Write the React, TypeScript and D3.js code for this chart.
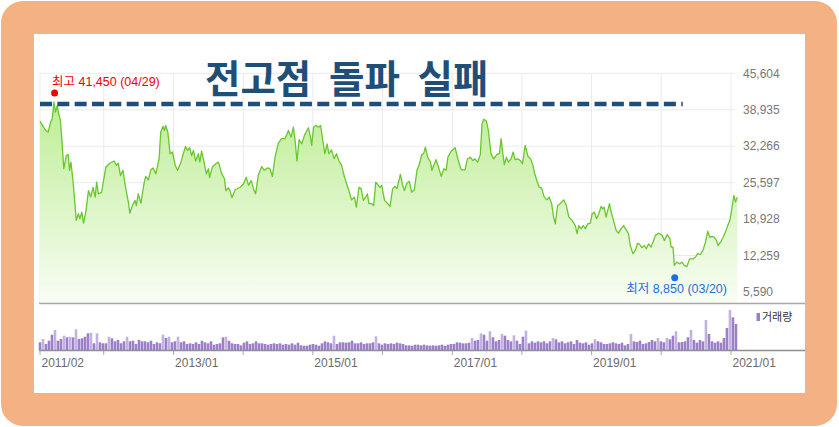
import React from "react";
import * as d3 from "d3";

// price line (weekly-ish closes)
const priceDates = [
  "2011-02-01","2011-03-02","2011-03-16","2011-03-28","2011-04-06","2011-04-15","2011-04-23","2011-05-02","2011-05-10","2011-05-19",
  "2011-05-28","2011-06-06","2011-06-19","2011-06-29","2011-07-06","2011-07-13","2011-07-23","2011-08-03","2011-08-10","2011-08-21",
  "2011-08-29","2011-09-08","2011-09-17","2011-09-29","2011-10-13","2011-10-25","2011-11-06","2011-11-17","2011-11-25","2011-12-04",
  "2011-12-21","2012-01-12","2012-02-02","2012-02-24","2012-03-07","2012-03-17","2012-03-29","2012-04-11","2012-04-21","2012-05-09",
  "2012-05-17","2012-05-30","2012-06-13","2012-06-20","2012-06-30","2012-07-14","2012-07-30","2012-08-08","2012-08-22","2012-09-04",
  "2012-09-16","2012-09-30","2012-10-17","2012-10-26","2012-11-07","2012-11-15","2012-11-21","2012-12-02","2012-12-14","2012-12-26",
  "2013-01-10","2013-01-22","2013-02-09","2013-02-21","2013-03-05","2013-03-15","2013-03-26","2013-04-06","2013-04-15","2013-04-27",
  "2013-05-11","2013-05-19","2013-05-28","2013-06-10","2013-06-22","2013-07-03","2013-07-09","2013-07-23","2013-08-10","2013-08-24",
  "2013-09-11","2013-09-25","2013-10-02","2013-10-16","2013-10-24","2013-11-03","2013-11-20","2013-12-16","2014-01-03","2014-01-17",
  "2014-01-29","2014-02-12","2014-02-24","2014-03-07","2014-03-21","2014-04-08","2014-04-22","2014-05-09","2014-05-21","2014-06-03",
  "2014-06-17","2014-07-04","2014-07-21","2014-08-08","2014-08-26","2014-09-09","2014-09-21","2014-09-30","2014-10-10","2014-10-21",
  "2014-11-04","2014-11-18","2014-12-09","2014-12-20","2014-12-26","2015-01-05","2015-01-17","2015-01-31","2015-02-11","2015-02-20",
  "2015-03-05","2015-03-17","2015-03-26","2015-04-09","2015-04-23","2015-05-05","2015-05-17","2015-06-01","2015-06-15","2015-06-27",
  "2015-07-09","2015-07-23","2015-08-07","2015-08-17","2015-08-31","2015-09-11","2015-09-23","2015-10-05","2015-10-14","2015-10-22",
  "2015-11-06","2015-11-16","2015-11-27","2015-12-11","2015-12-19","2015-12-28","2016-01-12","2016-01-29","2016-02-10","2016-02-19",
  "2016-02-24","2016-03-06","2016-03-17","2016-04-04","2016-04-16","2016-04-25","2016-05-08","2016-05-21","2016-06-02","2016-06-16",
  "2016-06-30","2016-07-12","2016-07-25","2016-08-04","2016-08-13","2016-08-25","2016-09-09","2016-09-16","2016-09-26","2016-10-08",
  "2016-10-21","2016-11-04","2016-11-18","2016-11-30","2016-12-09","2016-12-26","2017-01-16","2017-01-30","2017-02-17","2017-03-08",
  "2017-03-22","2017-04-06","2017-04-18","2017-04-30","2017-05-14","2017-05-28","2017-06-06","2017-06-15","2017-06-29","2017-07-09",
  "2017-07-23","2017-08-06","2017-08-23","2017-09-05","2017-09-14","2017-09-23","2017-10-01","2017-10-12","2017-10-22","2017-11-05",
  "2017-11-16","2017-11-26","2017-12-10","2017-12-24","2018-01-04","2018-01-18","2018-02-02","2018-02-16","2018-02-28","2018-03-07",
  "2018-03-20","2018-04-02","2018-04-14","2018-04-28","2018-05-12","2018-05-24","2018-06-06","2018-06-16","2018-06-25","2018-07-07",
  "2018-07-21","2018-08-08","2018-08-22","2018-09-04","2018-09-21","2018-10-08","2018-10-17","2018-10-26","2018-11-07","2018-11-18",
  "2018-11-30","2018-12-12","2018-12-26","2019-01-04","2019-01-16","2019-01-27","2019-02-09","2019-02-20","2019-03-01","2019-03-08",
  "2019-03-18","2019-04-05","2019-04-12","2019-04-26","2019-05-10","2019-05-22","2019-06-04","2019-06-18","2019-07-02","2019-07-14",
  "2019-07-23","2019-08-06","2019-08-19","2019-08-30","2019-09-10","2019-09-22","2019-10-05","2019-10-15","2019-10-27","2019-11-09",
  "2019-11-19","2019-12-02","2019-12-19","2020-01-06","2020-01-18","2020-02-02","2020-02-16","2020-02-22","2020-03-03","2020-03-10",
  "2020-03-23","2020-04-07","2020-04-19","2020-05-01","2020-05-15","2020-05-29","2020-06-16","2020-06-28","2020-07-10","2020-07-24",
  "2020-08-07","2020-08-20","2020-09-01","2020-09-12","2020-09-24","2020-10-06","2020-10-17","2020-10-25","2020-11-07","2020-11-21",
  "2020-12-03","2020-12-15","2020-12-26","2021-01-04","2021-01-16","2021-01-25","2021-02-03",
];

const priceValues = [
  36850,35150,34850,36650,37300,40350,38500,39700,38200,37000,
  32700,28150,30550,30750,27850,29350,26300,21750,18700,19900,
  19000,20200,18200,20200,24150,22950,24750,22950,25700,23550,
  23850,28450,29150,29550,28750,29150,26900,27850,25400,22050,
  20000,21400,22350,21400,23550,21850,25400,26750,26100,27950,
  28300,27200,29950,34850,35900,35150,36050,34850,30900,31200,
  28750,27850,29350,30900,32200,31500,32000,30550,31500,29550,
  30900,29350,31350,29350,27200,28150,26500,28450,29050,29350,
  27200,26300,24150,24650,24150,22850,24300,24750,25400,26600,
  25100,26000,24500,23550,26900,28550,27850,28300,28150,26750,
  30250,32800,33650,33650,35150,33900,35750,33300,29550,33450,
  32700,34250,35650,33900,32400,35750,36050,35750,36050,33900,
  30900,32700,30900,31600,29950,30900,29650,28750,26750,25400,
  24150,22450,22950,21100,24750,24500,22350,22950,23550,21750,
  21750,21400,25700,25100,24750,25100,22350,21750,21250,23550,
  24500,24900,24500,27100,25100,24150,25500,25850,23850,24300,
  27850,28900,30750,30900,32100,30250,29350,27850,28750,29800,
  28450,26750,28150,27850,30250,31350,32000,29950,27950,27950,
  29950,30250,29650,29950,29350,30750,36350,37200,36850,35150,
  30900,29950,30750,30900,33650,30900,28900,30250,29350,29950,
  31200,29800,29950,29650,29050,32400,30400,29950,28750,27500,
  26000,24750,24650,22950,22450,22950,21750,19300,18050,21400,
  21750,22450,21400,19300,18700,17750,16250,17750,17150,17750,
  17150,18050,18200,19900,20200,19000,20000,21250,20800,21100,
  19300,21750,20500,18700,16850,16350,17150,17750,16950,16250,
  14100,12600,13200,14500,14300,13700,14100,13500,14400,13800,
  14700,15950,16350,15950,15000,16100,15350,13800,13800,10450,
  11050,10750,11050,10450,10250,11650,11650,11950,12600,12450,
  13200,14700,16700,15600,15750,15600,15000,14100,14700,15600,
  16550,17750,18700,20500,23250,22050,22950,
];

// volume bars, evenly spaced from volumeStart to volumeEnd
const volumeStart = "2011-02-01";
const volumeEnd = "2021-01-27";
const volumeValues = [
  770,1100,600,930,1530,2000,930,1100,1430,1270,1330,1270,2070,1100,1170,1330,1670,1730,670,1670,
  770,670,670,1330,1170,870,1000,670,870,1330,870,930,600,1000,870,870,770,930,600,770,
  670,1530,1200,1330,770,870,1330,770,870,600,670,600,770,600,930,770,670,870,
  533,600,667,1267,1333,933,667,600,600,467,733,867,600,667,867,667,667,600,533,600,
  667,600,667,533,600,533,667,533,733,467,433,433,533,600,533,433,667,867,767,667,
  1433,600,767,767,733,767,933,667,667,767,600,667,667,767,1367,667,533,667,600,
  667,600,733,667,600,467,467,433,533,533,467,533,467,433,467,433,467,533,433,533,
  600,600,767,733,667,667,733,1200,933,1000,1667,1533,933,1867,1267,867,1000,1600,1433,1000,
  867,1467,933,600,1333,1933,667,867,733,867,767,867,667,867,1200,1067,767,867,667,
  767,867,600,1000,733,667,767,533,667,1067,867,767,600,600,667,767,667,600,733,467,
  600,1600,867,800,933,600,667,800,1000,867,1200,867,767,1200,1067,1433,1867,767,800,867,
  1267,2000,1000,733,1000,867,3000,1600,867,733,867,733,1200,2200,4000,3267,2600,
];

const yTicks = [45604, 38935, 32266, 25597, 18928, 12259, 5590];
const yearTicks = ["2011-02-01","2012-01-01","2013-01-01","2014-01-01","2015-01-01","2016-01-01",
  "2017-01-01","2018-01-01","2019-01-01","2020-01-01","2021-01-01"];
const yearLabels = ["2011/02","","2013/01","","2015/01","","2017/01","","2019/01","","2021/01"];

const title = "전고점 돌파 실패";
const maxPoint = { date: "2011-04-29", value: 41450, label: "최고 41,450 (04/29)" };
const minPoint = { date: "2020-03-20", value: 8850, label: "최저 8,850 (03/20)" };
const volumeLegend = "거래량";

const parse = d3.timeParse("%Y-%m-%d");
const font = "'Liberation Sans', Arial, 'Noto Sans CJK KR', sans-serif";

export default function App() {
  const x = d3
    .scaleTime()
    .domain([parse("2011-02-01") as Date, parse("2021-01-01") as Date])
    .range([40, 731]);
  const y = d3.scaleLinear().domain([5590, 45604]).range([292, 73.3]);
  const yVol = d3.scaleLinear().domain([0, 4000]).range([350, 310]);

  const series = priceDates.map((d, i) => ({ date: parse(d) as Date, value: priceValues[i] }));
  const area = d3
    .area<{ date: Date; value: number }>()
    .x((d) => x(d.date))
    .y0(303)
    .y1((d) => y(d.value));
  const line = d3
    .line<{ date: Date; value: number }>()
    .x((d) => x(d.date))
    .y((d) => y(d.value));

  const v0 = (parse(volumeStart) as Date).getTime();
  const v1 = (parse(volumeEnd) as Date).getTime();
  const n = volumeValues.length;
  const bars = volumeValues.map((v, i) => {
    const date = new Date(v0 + ((v1 - v0) * i) / (n - 1));
    const prev = i > 0 ? volumeValues[i - 1] : 0;
    const next = i < n - 1 ? volumeValues[i + 1] : 0;
    return { date, v, spike: v > prev && v > next && v > 1000 };
  });

  const maxX = x(parse(maxPoint.date) as Date);
  const minX = x(parse(minPoint.date) as Date);

  return (
    <svg width={839} height={427} style={{ position: "absolute", left: 0, top: 0, display: "block" }}>
      <defs>
        <linearGradient id="areaFill" gradientUnits="userSpaceOnUse" x1="0" y1="73" x2="0" y2="303">
          <stop offset="0%" stopColor="#b6eb88" />
          <stop offset="100%" stopColor="#f8fdf4" />
        </linearGradient>
      </defs>
      <rect x={1} y={1} width={836} height={425} rx={22} fill="#F4B183" />
      <rect x={34} y={34} width={771} height={359} fill="#ffffff" />

      {/* grid */}
      {yTicks.map((t) => (
        <line key={t} x1={40} x2={735} y1={y(t)} y2={y(t)} stroke="#ebebeb" strokeWidth={1} />
      ))}
      {yearTicks.map((t) => (
        <line key={t} x1={x(parse(t) as Date)} x2={x(parse(t) as Date)} y1={73} y2={303} stroke="#ebebeb" strokeWidth={1} />
      ))}

      <path d={area(series) || ""} fill="url(#areaFill)" />
      <path d={line(series) || ""} fill="none" stroke="#69c72c" strokeWidth={1.3} strokeLinejoin="round" />

      {/* right axis */}
      {yTicks.map((t) => (
        <text key={t} x={743} y={y(t)} dy="0.35em" fontSize={12} fill="#777" fontFamily={font}>
          {d3.format(",")(t)}
        </text>
      ))}

      {/* volume */}
      {bars.map((b, i) => (
        <rect
          key={i}
          x={x(b.date) - 1.3}
          y={yVol(b.v)}
          width={2.6}
          height={350 - yVol(b.v)}
          fill={b.spike ? "#c3b1e2" : "#9b80c9"}
        />
      ))}
      <rect x={756.5} y={313} width={3.5} height={8} fill="#9b80c9" />
      <text x={762} y={320.5} fontSize={11} fill="#333" fontFamily={font}>
        {volumeLegend}
      </text>

      <line x1={39} x2={805} y1={303.5} y2={303.5} stroke="#a8a8a8" strokeWidth={1.5} />
      <line x1={39} x2={805} y1={350.5} y2={350.5} stroke="#8e8e8e" strokeWidth={1.5} />

      {/* x axis */}
      {yearTicks.map((t, i) => {
        const px = x(parse(t) as Date);
        return (
          <g key={t}>
            <line x1={px} x2={px} y1={351} y2={355} stroke="#aaa" strokeWidth={1} />
            {yearLabels[i] && (
              <text x={px + 1.5} y={367} fontSize={12} fill="#6b6b6b" fontFamily={font}>
                {yearLabels[i]}
              </text>
            )}
          </g>
        );
      })}

      {/* annotations */}
      <line x1={40} x2={682.7} y1={104} y2={104} stroke="#1F4E79" strokeWidth={4.5} strokeDasharray="12 5.33" />
      <text
        x={205}
        y={92.5}
        fontSize={38.5}
        fontWeight={700}
        wordSpacing={9}
        fill="#1F4E79"
        fontFamily="'Noto Sans CJK KR', sans-serif"
      >
        {title}
      </text>

      <circle cx={maxX - 2} cy={y(maxPoint.value) - 3} r={3.5} fill="#f00000" />
      <text x={52} y={85.5} fontSize={12.5} fill="#f00000" fontFamily={font}>
        {maxPoint.label}
      </text>
      <circle cx={minX - 1.5} cy={y(minPoint.value) + 3.5} r={3.5} fill="#1f6fd6" />
      <text x={727} y={293} fontSize={12.5} fill="#1f6fd6" textAnchor="end" fontFamily={font}>
        {minPoint.label}
      </text>
    </svg>
  );
}
